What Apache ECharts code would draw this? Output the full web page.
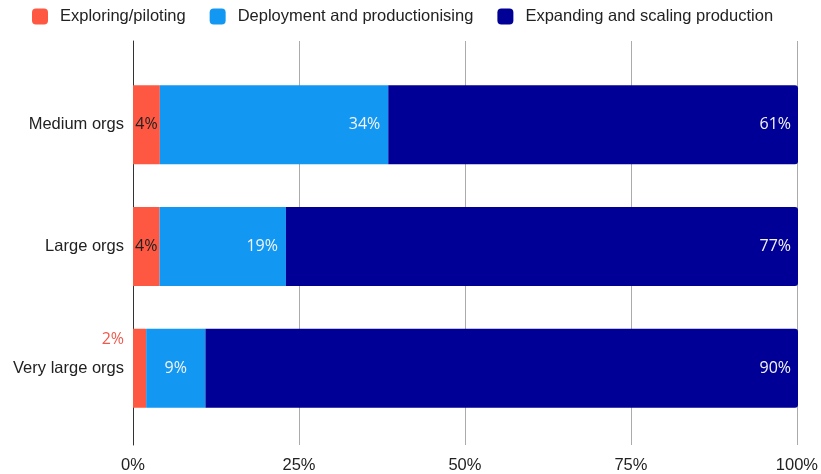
<!DOCTYPE html>
<html>
<head>
<meta charset="utf-8">
<script src="https://cdn.jsdelivr.net/npm/echarts@6/dist/echarts.min.js"></script>
<style>
  html, body { margin: 0; padding: 0; background: #fff; }
  #chart { width: 821px; height: 474px; }
</style>
</head>
<body>
<div id="chart"></div>
<script>
// Survey results by organisation size (percent of respondents per stage)
const categories = ['Medium orgs', 'Large orgs', 'Very large orgs'];
const seriesNames = ['Exploring/piloting', 'Deployment and productionising', 'Expanding and scaling production'];
const exploring = [4, 4, 2];
const deployment = [34, 19, 9];
const expanding = [61, 77, 90];
const xTicks = [0, 25, 50, 75, 100];

const colors = ['#FF5842', '#1297F3', '#000096'];
const raw = [exploring, deployment, expanding];

// Each row is shown as a 100% stack, so shares are scaled by the row total.
const rowTotals = categories.map((_, i) => raw.reduce((s, arr) => s + arr[i], 0));

function shares(arr, labelOverrides) {
  return arr.map((v, i) => {
    const item = { value: v / rowTotals[i] * 100, raw: v };
    if (labelOverrides && labelOverrides[i]) item.label = labelOverrides[i];
    return item;
  });
}

const labelFont = { fontFamily: 'Open Sans', fontSize: 16 };
const pctFormatter = p => p.data.raw + '%';

const chart = echarts.init(document.getElementById('chart'), null, { renderer: 'canvas' });

chart.setOption({
  animation: false,
  color: colors,
  legend: {
    left: 32,
    top: 8,
    padding: 0,
    itemWidth: 16,
    itemHeight: 16,
    itemGap: 24,
    icon: 'roundRect',
    textStyle: { fontFamily: 'Liberation Sans', fontSize: 16.5, color: '#222', padding: [0, 0, 0, 7] },
    data: seriesNames
  },
  grid: [
    // frame grid: gridlines and percentage ticks
    { left: 133, right: 23, top: 41, bottom: 25 },
    // bar grid
    { left: 133, right: 23, top: 64, bottom: 45 }
  ],
  xAxis: [
    {
      gridIndex: 0, type: 'value', min: xTicks[0], max: xTicks[xTicks.length - 1], interval: 25,
      axisLine: { show: false }, axisTick: { show: false },
      axisLabel: { formatter: '{value}%', fontFamily: 'Liberation Sans', fontSize: 16.5, color: '#222', margin: 12 },
      splitLine: { lineStyle: { color: '#ababab', width: 1 } }
    },
    { gridIndex: 1, type: 'value', min: 0, max: 100, show: false }
  ],
  yAxis: [
    {
      gridIndex: 0, type: 'value', min: 0, max: 1,
      axisLine: { show: true, lineStyle: { color: '#333', width: 1 } },
      axisTick: { show: false }, axisLabel: { show: false }, splitLine: { show: false }
    },
    {
      gridIndex: 1, type: 'category', data: categories, inverse: true,
      axisLine: { show: false }, axisTick: { show: false },
      axisLabel: { fontFamily: 'Liberation Sans', fontSize: 16.5, color: '#222', margin: 9 }
    }
  ],
  series: [
    {
      name: seriesNames[0], type: 'bar', stack: 'total', xAxisIndex: 1, yAxisIndex: 1,
      barWidth: 79,
      label: { show: true, position: 'inside', color: '#222', formatter: pctFormatter, ...labelFont },
      data: shares(exploring, [null, null, {
        position: [-9, 11], align: 'right', verticalAlign: 'middle',
        color: '#EE5A4C', textBorderColor: '#fff', textBorderWidth: 4
      }])
    },
    {
      name: seriesNames[1], type: 'bar', stack: 'total', xAxisIndex: 1, yAxisIndex: 1,
      barWidth: 79,
      label: { show: true, position: 'insideRight', distance: 8, color: '#f4f4f4', formatter: pctFormatter, ...labelFont },
      data: shares(deployment, [null, null, { position: 'inside' }])
    },
    {
      name: seriesNames[2], type: 'bar', stack: 'total', xAxisIndex: 1, yAxisIndex: 1,
      barWidth: 79,
      itemStyle: { borderRadius: [0, 3, 3, 0] },
      label: { show: true, position: 'insideRight', distance: 7, color: '#f4f4f4', formatter: pctFormatter, ...labelFont },
      data: shares(expanding)
    }
  ]
});
</script>
</body>
</html>
